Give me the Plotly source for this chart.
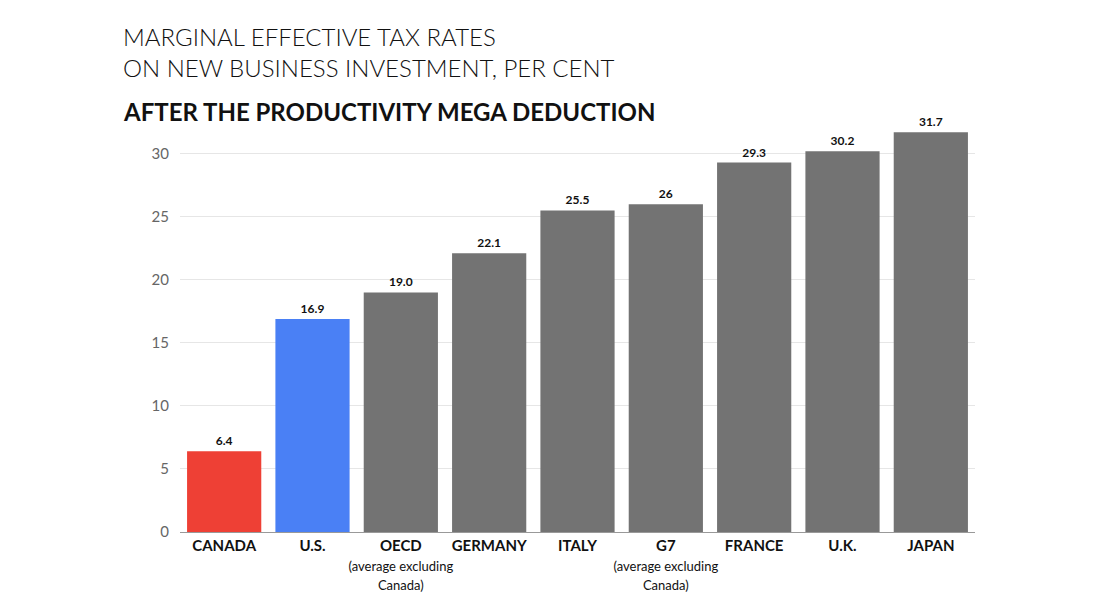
import plotly.graph_objects as go

categories = ["CANADA", "U.S.", "OECD", "GERMANY", "ITALY", "G7", "FRANCE", "U.K.", "JAPAN"]
values = [6.4, 16.9, 19.0, 22.1, 25.5, 26, 29.3, 30.2, 31.7]
value_labels = ["6.4", "16.9", "19.0", "22.1", "25.5", "26", "29.3", "30.2", "31.7"]
sub = "<br><span style='font-size:13px'>(average excluding<br>Canada)</span>"
tick_labels = ["<b>CANADA</b>", "<b>U.S.</b>", "<b>OECD</b>" + sub,
               "<b>GERMANY</b>", "<b>ITALY</b>", "<b>G7</b>" + sub,
               "<b>FRANCE</b>", "<b>U.K.</b>", "<b>JAPAN</b>"]
colors = ["#EE4035", "#4A80F5"] + ["#737373"] * 7

fig = go.Figure(go.Bar(
    x=categories, y=values, marker_color=colors, marker_line_width=0,
    text=["<b>%s</b>" % t for t in value_labels], textposition="outside",
    textfont=dict(size=12, color="#111"), cliponaxis=False, hoverinfo="skip"))

fig.update_layout(
    width=1100, height=600, plot_bgcolor="white", paper_bgcolor="white",
    margin=dict(l=172, r=133, t=118, b=76), bargap=0.16, showlegend=False,
    font=dict(family="Lato, sans-serif"),
    xaxis=dict(tickmode="array", tickvals=categories, ticktext=tick_labels,
               tickfont=dict(size=15, color="#111"), showline=True, tickangle=0,
               automargin=False, linecolor="#999", linewidth=1, ticks=""),
    yaxis=dict(range=[0, 32.2], tickvals=[0, 5, 10, 15, 20, 25, 30], showgrid=True,
               gridcolor="#e6e6e6", zeroline=False, tickfont=dict(size=15, color="#666"),
               ticklabelstandoff=10, automargin=False),
    annotations=[
        dict(text="MARGINAL EFFECTIVE TAX RATES<br>ON NEW BUSINESS INVESTMENT, PER CENT",
             xref="paper", yref="paper", x=-0.074, y=1.0, xanchor="left", yanchor="bottom",
             yshift=42, align="left", showarrow=False,
             font=dict(size=24, color="#111", family="Lato Light, Lato, sans-serif")),
        dict(text="<b>AFTER THE PRODUCTIVITY MEGA DEDUCTION</b>",
             xref="paper", yref="paper", x=-0.074, y=1.0, xanchor="left", yanchor="bottom",
             yshift=-2, align="left", showarrow=False,
             font=dict(size=24, color="#111")),
    ])
fig.write_html("out.html")
